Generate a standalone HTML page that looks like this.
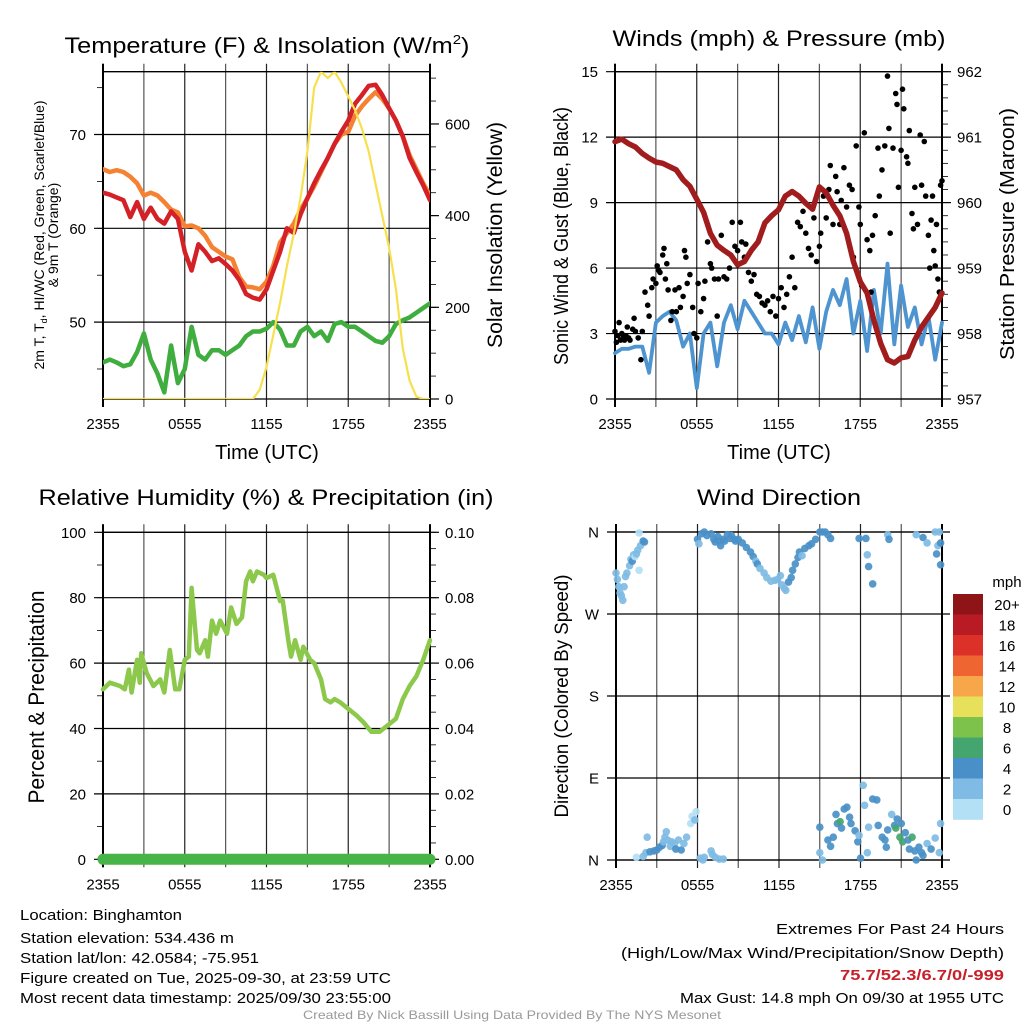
<!DOCTYPE html>
<html><head><meta charset="utf-8"><title>NYS Mesonet Binghamton</title>
<style>
html,body{margin:0;padding:0;background:#fff;}
svg{display:block;font-family:"Liberation Sans",Arial,sans-serif;}
</style></head>
<body>
<svg id="fig" xmlns="http://www.w3.org/2000/svg" width="1024" height="1024" viewBox="0 0 1024 1024">
<rect x="0" y="0" width="1024" height="1024" fill="#fff"/>
<!-- titles -->
<text x="267" y="53" font-size="22" text-anchor="middle" textLength="405" lengthAdjust="spacingAndGlyphs">Temperature (F) &amp; Insolation (W/m<tspan font-size="13" dy="-9">2</tspan><tspan dy="9">)</tspan></text>
<text x="779" y="46" font-size="22" text-anchor="middle" textLength="333" lengthAdjust="spacingAndGlyphs">Winds (mph) &amp; Pressure (mb)</text>
<text x="266" y="505" font-size="22" text-anchor="middle" textLength="455" lengthAdjust="spacingAndGlyphs">Relative Humidity (%) &amp; Precipitation (in)</text>
<text x="779" y="505" font-size="22" text-anchor="middle" textLength="164" lengthAdjust="spacingAndGlyphs">Wind Direction</text>
<!-- axis titles -->
<text transform="translate(44,235) rotate(-90)" font-size="14" text-anchor="middle">2m T, T<tspan font-size="9" dy="3">d</tspan><tspan dy="-3">, HI/WC (Red, Green, Scarlet/Blue)</tspan></text>
<text transform="translate(58,235) rotate(-90)" font-size="14" text-anchor="middle">&amp; 9m T (Orange)</text>
<text transform="translate(502,235) rotate(-90)" font-size="21" text-anchor="middle" textLength="226" lengthAdjust="spacingAndGlyphs">Solar Insolation (Yellow)</text>
<text x="267" y="459" font-size="20" text-anchor="middle">Time (UTC)</text>
<text transform="translate(568,236) rotate(-90)" font-size="20" text-anchor="middle" textLength="258" lengthAdjust="spacingAndGlyphs">Sonic Wind &amp; Gust (Blue, Black)</text>
<text transform="translate(1014,234) rotate(-90)" font-size="20" text-anchor="middle" textLength="252" lengthAdjust="spacingAndGlyphs">Station Pressure (Maroon)</text>
<text x="779" y="459" font-size="20" text-anchor="middle">Time (UTC)</text>
<text transform="translate(44,697) rotate(-90)" font-size="22" text-anchor="middle" textLength="213" lengthAdjust="spacingAndGlyphs">Percent &amp; Precipitation</text>
<text transform="translate(568,696) rotate(-90)" font-size="19" text-anchor="middle" textLength="243" lengthAdjust="spacingAndGlyphs">Direction (Colored By Speed)</text>
<text x="1007" y="587" font-size="15" text-anchor="middle">mph</text>
<!-- footer -->
<g font-size="15">
<text x="20" y="920" textLength="162" lengthAdjust="spacingAndGlyphs">Location: Binghamton</text>
<text x="20" y="943" textLength="214" lengthAdjust="spacingAndGlyphs">Station elevation: 534.436 m</text>
<text x="20" y="963" textLength="239" lengthAdjust="spacingAndGlyphs">Station lat/lon: 42.0584; -75.951</text>
<text x="20" y="983" textLength="371" lengthAdjust="spacingAndGlyphs">Figure created on Tue, 2025-09-30, at 23:59 UTC</text>
<text x="20" y="1003" textLength="371" lengthAdjust="spacingAndGlyphs">Most recent data timestamp: 2025/09/30 23:55:00</text>
</g>
<g font-size="15" text-anchor="end">
<text x="1004" y="934" textLength="228" lengthAdjust="spacingAndGlyphs">Extremes For Past 24 Hours</text>
<text x="1004" y="958" textLength="383" lengthAdjust="spacingAndGlyphs">(High/Low/Max Wind/Precipitation/Snow Depth)</text>
<text x="1004" y="980" fill="#c8202a" font-weight="bold" textLength="164" lengthAdjust="spacingAndGlyphs">75.7/52.3/6.7/0/-999</text>
<text x="1004" y="1003" textLength="324" lengthAdjust="spacingAndGlyphs">Max Gust: 14.8 mph On 09/30 at 1955 UTC</text>
</g>
<text x="512" y="1019" font-size="12" fill="#999" text-anchor="middle" textLength="418" lengthAdjust="spacingAndGlyphs">Created By Nick Bassill Using Data Provided By The NYS Mesonet</text>
<g id="charts"></g>
</svg>
<script>
// ---------- data ----------
var timeLabels = ['2355','0555','1155','1755','2355'];
var timeLabelHours = [0, 6, 12, 18, 24];
var tempTicks = [50, 60, 70];
var solarTicks = [0, 200, 400, 600];
var windTicks = [0, 3, 6, 9, 12, 15];
var presTicks = [957, 958, 959, 960, 961, 962];
var rhTicks = [0, 20, 40, 60, 80, 100];
var precipTicks = [0, 0.02, 0.04, 0.06, 0.08, 0.10];
var dirTickLabels = ['N','E','S','W','N'];
var dirTickValues = [0, 90, 180, 270, 360];
var colorbarLabels = ['0','2','4','6','8','10','12','14','16','18','20+'];
var colorbarColors = ['#b3e0f5','#7fbbe4','#4a90c8','#45a56e','#7cc24b','#e6e05b','#f7a749','#ef6531','#db3128','#b81b24','#8e1418'];

// half-hourly series, 0..24 h
var temp2m = [63.8,63.6,63.3,63,61.2,62.8,61,62.2,61,60.5,61.8,61,57.5,55.5,58.3,57.5,56.5,56.8,56.2,55.5,54.5,53,52.6,52.4,53.5,55.5,57.5,60,59.5,61.5,63.2,64.8,66.2,67.5,69,70.3,71.5,73.3,74.2,75.2,75.3,74.2,72.8,71.5,69.8,67.5,66,64.6,63];
var temp9m = [66.3,66,66.2,66,65.5,64.8,63.5,63.8,63.5,62.8,62,61.7,60.2,60.3,60,59.2,58,57.5,57,56.7,54.8,53.8,53.7,53.5,54.3,56,58.5,59.5,60.5,62,63.2,64.5,66,67.5,69,70,70.3,72,73,73.8,74.5,73.8,72.8,71.5,69.8,67.8,66.3,64.8,63.5];
var dewpoint = [45.7,46,45.7,45.3,45.5,46.8,48.8,46,44.5,42.5,47.5,43.5,45,49.5,46.5,46,47,47,46.5,47,47.5,48.5,49,49,49.3,50,49.2,47.5,47.5,49,49.5,48.5,49,48,49.8,50,49.5,49.5,49,48.5,48,47.8,48.5,49.8,50.2,50.5,51,51.5,52];
var solar = [0,0,0,0,0,0,0,0,0,0,0,0,0,0,0,0,0,0,0,0,0,0,0,20,70,140,210,290,360,440,540,680,714,700,714,690,660,630,590,540,470,400,330,240,110,40,5,0,0];
var windSpeed = [2.1,2.3,2.3,2.4,2.4,1.2,3.5,3.8,4.0,3.6,2.4,3.0,0.5,3.0,3.5,1.5,3.5,4.3,3.2,4.5,4.0,3.5,3.0,3.0,2.5,3.5,2.7,3.8,2.6,4.2,2.3,4.0,5.0,4.3,5.5,3.0,4.5,2.2,5.0,3.0,6.2,2.5,5.2,3.3,4.2,2.5,3.8,1.8,3.5];
var pressure = [960.93,960.97,960.9,960.85,960.75,960.68,960.62,960.6,960.55,960.5,960.35,960.25,960.05,959.85,959.53,959.35,959.27,959.2,959.05,959.1,959.27,959.4,959.69,959.8,959.89,960.1,960.17,960.1,959.99,959.9,960.24,960.15,959.96,959.8,959.53,959.1,958.79,958.62,958.2,957.85,957.6,957.55,957.63,957.65,957.9,958.1,958.25,958.4,958.62];

var gustTimes = [0,0.1,0.2,0.3,0.4,0.5,0.6,0.7,0.8,0.9,1.0,1.1,1.3,1.4,1.5,1.7,1.9,2.0,2.2,2.4,2.5,2.7,2.8,3.0,3.1,3.2,3.3,3.5,3.6,3.7,3.8,3.9,4.1,4.2,4.4,4.5,4.7,4.8,5.0,5.1,5.2,5.3,5.5,5.7,5.8,6.0,6.1,6.3,6.5,6.6,6.8,7.0,7.1,7.3,7.5,7.6,7.8,8.0,8.2,8.4,8.6,8.8,9.0,9.2,9.3,9.5,9.6,9.8,10.0,10.2,10.4,10.6,10.8,11.0,11.2,11.4,11.6,11.8,12.0,12.2,12.4,12.6,12.8,13.0,13.2,13.4,13.6,13.8,14.0,14.2,14.4,14.6,14.8,15.0,15.1,15.3,15.5,15.7,15.8,16.0,16.2,16.3,16.5,16.6,16.8,17.0,17.2,17.4,17.5,17.7,17.9,18.0,18.1,18.3,18.5,18.7,18.8,18.9,19.1,19.3,19.4,19.6,19.8,20.0,20.1,20.2,20.4,20.6,20.7,20.8,21.0,21.1,21.2,21.4,21.5,21.6,21.8,21.9,22.0,22.2,22.4,22.5,22.7,22.8,23.0,23.1,23.2,23.3,23.4,23.5,23.6,23.7,23.8,23.9,24.0];
var gustValues = [3.1,2.6,2.9,3.5,2.7,3.0,2.8,2.7,2.9,3.3,2.8,2.7,3.2,3.7,3.1,2.8,1.8,3.1,4.9,4.3,3.8,5.1,5.5,5.3,6.1,5.9,5.8,6.6,6.9,5.5,6.2,5.0,3.6,4.0,5.0,4.0,5.1,4.2,4.7,6.8,6.5,5.3,5.7,4.2,3.0,2.8,5.3,4.0,4.6,5.4,7.2,6.2,6.0,5.5,3.8,5.5,7.5,5.6,5.5,6.0,8.1,7.0,6.8,8.1,7.2,6.5,7.1,5.8,5.4,5.7,4.8,4.7,4.4,4.3,4.5,4.0,4.7,3.8,4.6,5.1,4.2,4.8,5.6,6.5,5.1,8.1,7.9,8.6,7.6,6.9,6.6,8.3,6.3,7.0,7.6,9.3,8.3,9.6,10.7,8.0,10.2,9.5,8.0,9.1,10.6,8.8,9.8,9.6,6.5,11.6,8.8,8.0,5.2,12.2,7.3,6.8,4.9,7.5,8.4,11.5,9.3,10.5,11.6,14.8,12.4,7.6,11.5,14.0,13.5,9.7,11.4,14.2,13.3,11.1,10.8,12.3,8.5,7.8,9.7,8.0,12.1,9.8,11.8,9.3,7.5,6.0,8.2,9.3,6.8,6.1,8.0,5.5,4.9,9.8,10.0];

var rhTimes = [0,0.5,1.25,1.6,1.9,2.1,2.5,2.7,2.8,3.2,3.7,4.2,4.5,4.9,5.3,5.6,6.0,6.3,6.5,6.9,7.1,7.5,7.7,8.0,8.3,8.6,9.1,9.4,9.8,10.2,10.5,10.8,11.0,11.3,11.8,12.0,12.5,13.0,13.2,13.6,13.8,14.1,14.5,14.7,15.2,15.5,16.0,16.3,16.7,17.0,17.4,18.0,18.6,19.1,19.7,20.3,20.9,21.5,22.0,22.5,23.0,23.5,24.0];
var rhValues = [52,54,53,52,58,51,61,54,63,57,53,55,51,64,52,52,61,62,83,64,63,67,62,73,69,73,69,77,72,74,85,88,85,88,87,86,87,79,79,67,62,67,61,65,61,60,55,49,48,49,48,46,44,42,39,39,41,43,49,53,56,61,67];
var precipTimes = [0, 24];
var precipValues = [0, 0];

var dirTimes = [0,0.1,0.2,0.3,0.4,0.5,0.6,0.7,0.8,1.0,1.1,1.2,1.3,1.4,1.5,1.6,1.7,1.7,1.8,2.0,2.1,6.0,6.1,6.3,6.5,6.7,7.0,7.2,7.3,7.5,7.6,7.7,7.9,8.0,8.2,8.4,8.5,8.7,8.8,9.0,9.3,9.6,9.9,10.1,10.3,10.4,10.6,10.9,11.1,11.4,11.7,11.9,12.1,12.2,12.4,12.5,12.7,12.9,13.0,13.2,13.4,13.5,13.7,13.9,14.2,14.4,14.7,15.0,15.2,15.4,15.6,15.8,17.9,18.4,18.5,18.6,18.9,20.0,20.1,22.1,22.6,22.9,23.5,23.8,23.7,23.9,23.6,23.9,
1.5,2.0,2.2,2.3,2.5,2.8,3.0,3.2,3.4,3.5,3.6,3.7,3.8,4.0,4.1,4.3,4.4,4.6,4.8,5.0,5.2,5.5,5.6,5.8,5.9,6.2,6.5,7.0,7.1,7.3,7.6,7.9,6.4,
15.0,15.0,15.2,15.6,15.8,16.0,16.2,16.3,16.5,16.6,16.8,17.0,17.2,17.3,17.6,17.8,17.9,18.0,18.2,18.3,18.5,18.6,18.9,19.2,19.3,19.6,19.8,20.0,20.3,20.5,20.6,20.7,20.9,21.0,21.1,21.3,21.5,21.8,22.0,22.1,22.3,22.5,22.6,22.9,23.2,23.5,23.8,23.9,21.6,19.9];
var dirValues = [315,308,300,293,290,285,300,311,315,323,330,328,335,333,336,340,359,318,345,350,349,352,347,358,360,356,358,352,349,355,350,345,352,350,357,353,356,352,350,352,348,343,338,333,328,325,320,315,310,306,307,308,312,302,298,296,305,310,318,325,332,338,334,342,345,347,352,360,360,360,357,353,353,353,335,322,303,357,352,357,354,348,360,360,345,348,336,324,
3,4,8,25,9,10,11,14,16,20,25,31,22,15,20,18,12,22,11,18,25,40,48,44,53,2,3,10,6,3,1,1,0,
36,8,0,22,15,25,50,40,42,35,56,58,47,40,32,20,27,2,82,60,8,36,67,66,38,25,22,33,50,38,35,45,25,40,20,30,22,25,10,0,14,8,5,18,12,24,8,40,12,14];
var dirSpeeds = [2,2,2,2,2,2,2,2,2,2,2,4,2,0,2,2,0,0,2,4,4,4,2,4,4,4,4,4,4,4,4,4,4,4,4,4,4,4,4,4,4,4,4,4,2,4,2,2,2,2,2,2,2,2,2,2,4,4,4,4,4,4,2,4,4,4,4,4,4,4,4,4,4,4,2,4,4,2,4,2,4,2,2,2,2,4,4,4,
0,2,2,2,4,4,4,4,4,2,2,2,2,2,2,2,4,2,4,2,2,0,0,2,0,2,2,2,2,2,2,2,2,
4,2,2,4,4,4,4,4,6,4,4,4,4,4,4,4,2,4,2,2,2,2,4,4,4,4,4,4,2,4,6,4,6,4,6,4,4,6,4,4,4,4,4,2,4,2,2,2,4,4];

// ---------- helpers ----------
var NS = 'http://www.w3.org/2000/svg';
var root = document.getElementById('charts');
function mk(tag, name, interact, attrs, parent) {
  var e = document.createElementNS(NS, tag);
  
  
  for (var k in attrs) e.setAttribute(k, attrs[k]);
  (parent || root).appendChild(e);
  return e;
}
function txt(name, x, y, s, attrs, parent) {
  var t = mk('text', name, 'false', attrs, parent);
  t.setAttribute('x', x);
  t.setAttribute('y', y);
  t.textContent = s;
  return t;
}
function xScale(p, t) { return p.x0 + t / 24 * (p.x1 - p.x0); }
function yScale(p, v, lo, hi) { return p.yb - (v - lo) / (hi - lo) * (p.yb - p.yt); }
function halfHours(n) { var a = []; for (var i = 0; i < n; i++) a.push(i * 0.5); return a; }

function frame(p, id) {
  var g = mk('g', id + '-axes', 'false', {});
  for (var h = 0; h <= 24; h += 3) {
    var x = xScale(p, h);
    var ln = mk('line', id + '-x-gridline', 'false', {x1: x, x2: x, y1: p.yt - 8, y2: p.yb + 8, stroke: (h % 6 === 0 ? '#222' : '#555'), 'stroke-width': 1.2}, g);
  }
  for (var i = 0; i < timeLabels.length; i++) {
    txt(id + '-x-tick-label', xScale(p, timeLabelHours[i]), p.yb + 30, timeLabels[i], {'font-size': 15, 'text-anchor': 'middle'}, g);
  }
  mk('line', id + '-top-border', 'false', {x1: p.x0, x2: p.x1, y1: p.yt, y2: p.yt, stroke: '#000', 'stroke-width': 1.3}, g);
  mk('line', id + '-bottom-border', 'false', {x1: p.x0, x2: p.x1, y1: p.yb, y2: p.yb, stroke: '#000', 'stroke-width': 1.3}, g);
  mk('line', id + '-left-axis', 'false', {x1: p.x0, x2: p.x0, y1: p.yt - 8, y2: p.yb + 8, stroke: '#000', 'stroke-width': 2}, g);
  mk('line', id + '-right-axis', 'false', {x1: p.x1, x2: p.x1, y1: p.yt - 8, y2: p.yb + 8, stroke: '#000', 'stroke-width': 2}, g);
  return g;
}
function leftAxis(p, id, ticks, labels, lo, hi, minorStep) {
  var g = mk('g', id + '-left-ticks', 'false', {});
  if (minorStep) {
    for (var m = lo - (lo % minorStep) ; m <= hi; m += minorStep) {
      if (m < lo) continue;
      var ym = yScale(p, m, lo, hi);
      mk('line', id + '-left-minor-tick', 'false', {x1: p.x0 - 6, x2: p.x0, y1: ym, y2: ym, stroke: '#000', 'stroke-width': 0.8}, g);
    }
  }
  for (var i = 0; i < ticks.length; i++) {
    var y = yScale(p, ticks[i], lo, hi);
    mk('line', id + '-y-gridline', 'false', {x1: p.x0 - 9, x2: p.x1, y1: y, y2: y, stroke: '#000', 'stroke-width': 1.2}, g);
    txt(id + '-left-tick-label', p.x0 - 17, y + 5.5, labels[i], {'font-size': 15, 'text-anchor': 'end'}, g);
  }
}
function rightAxis(p, id, ticks, labels, lo, hi, minorStep) {
  var g = mk('g', id + '-right-ticks', 'false', {});
  if (minorStep) {
    var n = Math.round((hi - lo) / minorStep);
    for (var k = 0; k <= n; k++) {
      var ym = yScale(p, lo + k * minorStep, lo, hi);
      mk('line', id + '-right-minor-tick', 'false', {x1: p.x1, x2: p.x1 + 6, y1: ym, y2: ym, stroke: '#000', 'stroke-width': 0.8}, g);
    }
  }
  for (var i = 0; i < ticks.length; i++) {
    var y = yScale(p, ticks[i], lo, hi);
    mk('line', id + '-right-major-tick', 'false', {x1: p.x1, x2: p.x1 + 9, y1: y, y2: y, stroke: '#000', 'stroke-width': 1.2}, g);
    txt(id + '-right-tick-label', p.x1 + 15, y + 5.5, labels[i], {'font-size': 15, 'text-anchor': 'start'}, g);
  }
}
function series(p, name, times, vals, lo, hi, color, w, clip) {
  var d = '';
  for (var i = 0; i < vals.length; i++) {
    var x = xScale(p, times[i]);
    var y = yScale(p, vals[i], lo, hi);
    d += (i ? 'L' : 'M') + x.toFixed(1) + ',' + y.toFixed(1);
  }
  var a = {d: d, fill: 'none', stroke: color, 'stroke-width': w, 'stroke-linejoin': 'round', 'stroke-linecap': 'round'};
  if (clip) a['clip-path'] = 'url(#' + clip + ')';
  return mk('path', name, 'false', a);
}

// ---------- panel 1: temperature ----------
var P1 = {x0: 103, x1: 430, yt: 71.7, yb: 399};
var T_LO = 41.8, T_HI = 76.7, S_LO = 0, S_HI = 714;
var defs = mk('defs', 'clip-defs', 'false', {});
var cp = mk('clipPath', 'temp-clip', 'false', {id: 'clip1'}, defs);
mk('rect', 'temp-clip-rect', 'false', {x: P1.x0, y: P1.yt, width: P1.x1 - P1.x0, height: P1.yb - P1.yt}, cp);
frame(P1, 'temp');
leftAxis(P1, 'temp', tempTicks, tempTicks.map(String), T_LO, T_HI, 5);
rightAxis(P1, 'solar', solarTicks, solarTicks.map(String), S_LO, S_HI, 50);
var hh = halfHours(49);
series(P1, 'dewpoint-line', hh, dewpoint, T_LO, T_HI, '#3fae3f', 4.5, 'clip1');
series(P1, 'temp-9m-line', hh, temp9m, T_LO, T_HI, '#f58232', 4.5, 'clip1');
series(P1, 'temp-2m-line', hh, temp2m, T_LO, T_HI, '#d42027', 4.5, 'clip1');
series(P1, 'solar-insolation-line', hh, solar, S_LO, S_HI, '#f7e04d', 2.2, 'clip1');

// ---------- panel 2: winds ----------
var P2 = {x0: 615, x1: 942, yt: 71.7, yb: 399};
var W_LO = 0, W_HI = 15, PR_LO = 957, PR_HI = 962;
frame(P2, 'wind');
leftAxis(P2, 'wind', windTicks, windTicks.map(String), W_LO, W_HI, 0);
rightAxis(P2, 'pressure', presTicks, presTicks.map(String), PR_LO, PR_HI, 0.2);
series(P2, 'wind-speed-line', hh, windSpeed, W_LO, W_HI, '#4d94d0', 3.8);
var gg = mk('g', 'gust-points', 'false', {});
for (var i = 0; i < gustTimes.length; i++) {
  var c = mk('circle', 'gust-point', 'false', {cx: xScale(P2, gustTimes[i]).toFixed(1), cy: yScale(P2, gustValues[i], W_LO, W_HI).toFixed(1), r: 2.8, fill: '#000'}, gg);
}
series(P2, 'pressure-line', hh, pressure, PR_LO, PR_HI, '#a11c1c', 5.5);

// ---------- panel 3: RH ----------
var P3 = {x0: 103, x1: 430, yt: 532.3, yb: 859.3};
frame(P3, 'rh');
leftAxis(P3, 'rh', rhTicks, rhTicks.map(String), 0, 100, 10);
rightAxis(P3, 'precip', precipTicks.map(function (v) { return v * 1000; }), precipTicks.map(function (v) { return v.toFixed(2); }), 0, 100, 5);
series(P3, 'relative-humidity-line', rhTimes, rhValues, 0, 100, '#8cc84b', 4.5);
series(P3, 'precipitation-line', precipTimes, precipValues, 0, 0.1, '#46b446', 11);

// ---------- panel 4: wind direction ----------
var P4 = {x0: 616, x1: 942, yt: 532, yb: 860};
frame(P4, 'direction');
var gd = mk('g', 'direction-left-ticks', 'false', {});
for (var i = 0; i < dirTickValues.length; i++) {
  var y = yScale(P4, dirTickValues[i], 0, 360);
  mk('line', 'direction-y-gridline', 'false', {x1: P4.x0 - 9, x2: P4.x1 + 8, y1: y, y2: y, stroke: '#000', 'stroke-width': 1.2}, gd);
  txt('direction-tick-label', P4.x0 - 17, y + 5.5, dirTickLabels[i], {'font-size': 15, 'text-anchor': 'end'}, gd);
}
function speedColor(s) {
  var idx = Math.min(10, Math.max(0, Math.floor((s + 1) / 2)));
  return colorbarColors[idx];
}
var gp = mk('g', 'direction-points', 'false', {});
for (var i = 0; i < dirTimes.length; i++) {
  var pt = mk('circle', 'direction-point', 'false', {cx: xScale(P4, dirTimes[i]).toFixed(1), cy: yScale(P4, dirValues[i], 0, 360).toFixed(1), r: 3.8, fill: speedColor(dirSpeeds[i]), 'fill-opacity': 0.92}, gp);
}
var gc = mk('g', 'speed-colorbar', 'false', {});
var cbTop = 594, cbH = 20.5;
for (var i = 0; i < colorbarColors.length; i++) {
  var k = colorbarColors.length - 1 - i;
  mk('rect', 'colorbar-swatch', 'false', {x: 953, y: cbTop + i * cbH, width: 30, height: cbH + 0.3, fill: colorbarColors[k]}, gc);
  txt('colorbar-label', 1007, cbTop + i * cbH + cbH / 2 + 5.5, colorbarLabels[k], {'font-size': 15, 'text-anchor': 'middle'}, gc);
}
</script>
</body></html>
